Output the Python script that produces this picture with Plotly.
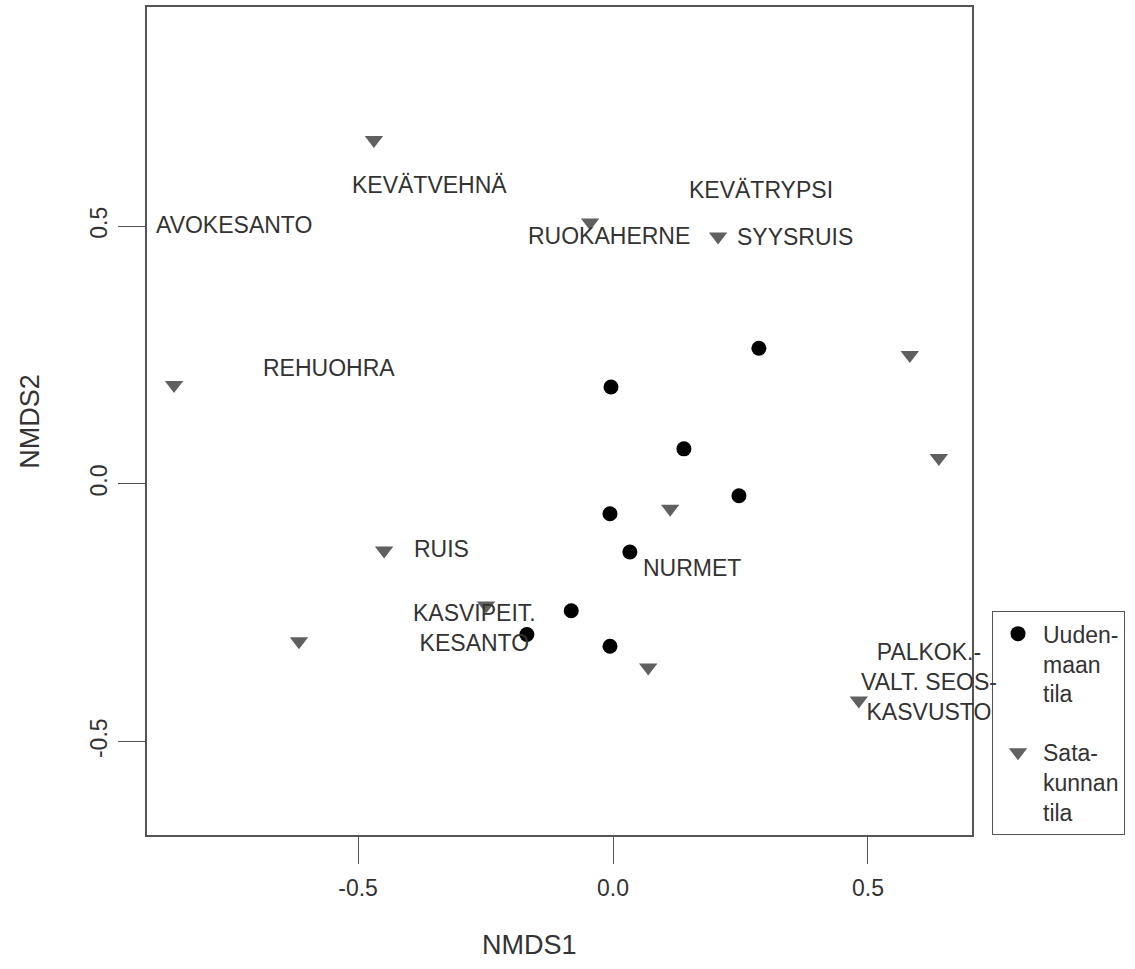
import plotly.graph_objects as go

# Uudenmaan tila (circles)
u_x = [0.286, -0.004, 0.139, 0.247, -0.006, 0.033, -0.082, -0.169, -0.006]
u_y = [0.263, 0.188, 0.068, -0.023, -0.058, -0.132, -0.246, -0.292, -0.315]

# Satakunnan tila (triangles)
s_x = [-0.469, -0.045, 0.206, 0.582, -0.861, 0.639, 0.112, -0.449, -0.249, -0.616, 0.069, 0.482]
s_y = [0.667, 0.507, 0.480, 0.250, 0.192, 0.050, -0.048, -0.129, -0.236, -0.305, -0.356, -0.420]

# Crop labels
lab_text = ["KEVÄTVEHNÄ", "AVOKESANTO", "KEVÄTRYPSI", "RUOKAHERNE", "SYYSRUIS",
            "REHUOHRA", "RUIS", "NURMET", "KASVIPEIT.<br>KESANTO",
            "PALKOK.-<br>VALT. SEOS-<br>KASVUSTO"]
lab_x = [-0.359, -0.743, 0.290, -0.008, 0.357, -0.557, -0.337, 0.155, -0.271, 0.619]
lab_y = [0.580, 0.503, 0.571, 0.480, 0.478, 0.224, -0.126, -0.164, -0.279, -0.385]

x_ticks = [-0.5, 0.0, 0.5]
x_tick_text = ["-0.5", "0.0", "0.5"]
y_ticks = [-0.5, 0.0, 0.5]
y_tick_text = ["-0.5", "0.0", "0.5"]

FONT = "Liberation Sans, Arial, sans-serif"
AX = "#555555"

fig = go.Figure()
fig.add_trace(go.Scatter(
    x=u_x, y=u_y, mode="markers", name="Uuden-<br>maan<br>tila",
    legendgroup="u",
    marker=dict(symbol="circle", size=15, color="black"),
))
fig.add_trace(go.Scatter(
    x=s_x, y=s_y, mode="markers", name="Sata-<br>kunnan<br>tila",
    legendgroup="s",
    marker=dict(symbol="triangle-down", size=16, color="#606060"),
))

for t, x, y in zip(lab_text, lab_x, lab_y):
    fig.add_annotation(x=x, y=y, xref="x", yref="y", text=t, showarrow=False,
                       font=dict(family=FONT, size=23, color="#333333"),
                       align="center", xanchor="center", yanchor="middle")

fig.add_annotation(x=0.464, y=-0.133, xref="paper", yref="paper", text="NMDS1",
                   showarrow=False, font=dict(family=FONT, size=27, color="#333333"),
                   xanchor="center", yanchor="middle")
fig.add_annotation(x=-0.142, y=0.5, xref="paper", yref="paper", text="NMDS2",
                   showarrow=False, textangle=-90,
                   font=dict(family=FONT, size=27, color="#333333"),
                   xanchor="center", yanchor="middle")

fig.update_xaxes(range=[-0.914, 0.704], tickvals=x_ticks, ticktext=x_tick_text,
                 showgrid=False, zeroline=False, showline=True, mirror=True,
                 linecolor=AX, linewidth=1.5, ticks="outside", ticklen=27,
                 tickcolor=AX, tickwidth=1.2,
                 tickfont=dict(family=FONT, size=23, color="#333333"),
                 ticklabelstandoff=5)
fig.update_yaxes(range=[-0.681, 0.925], tickvals=y_ticks, ticktext=y_tick_text,
                 showgrid=False, zeroline=False, showline=True, mirror=True,
                 linecolor=AX, linewidth=1.5, ticks="outside", ticklen=27,
                 tickcolor=AX, tickwidth=1.2, tickangle=-90,
                 tickfont=dict(family=FONT, size=23, color="#333333"),
                 ticklabelstandoff=2)

fig.update_layout(
    width=1135, height=969,
    margin=dict(l=147, r=163, t=5, b=134),
    plot_bgcolor="white", paper_bgcolor="white",
    showlegend=True,
    legend=dict(x=1.024, y=0, xanchor="left", yanchor="bottom",
                bordercolor="#555555", borderwidth=1.2, bgcolor="white",
                font=dict(family=FONT, size=23, color="#333333"),
                valign="top", tracegroupgap=26, itemwidth=40),
)

fig.write_html("out.html", config={"displayModeBar": False},
               post_script="document.body.style.margin='0';")
